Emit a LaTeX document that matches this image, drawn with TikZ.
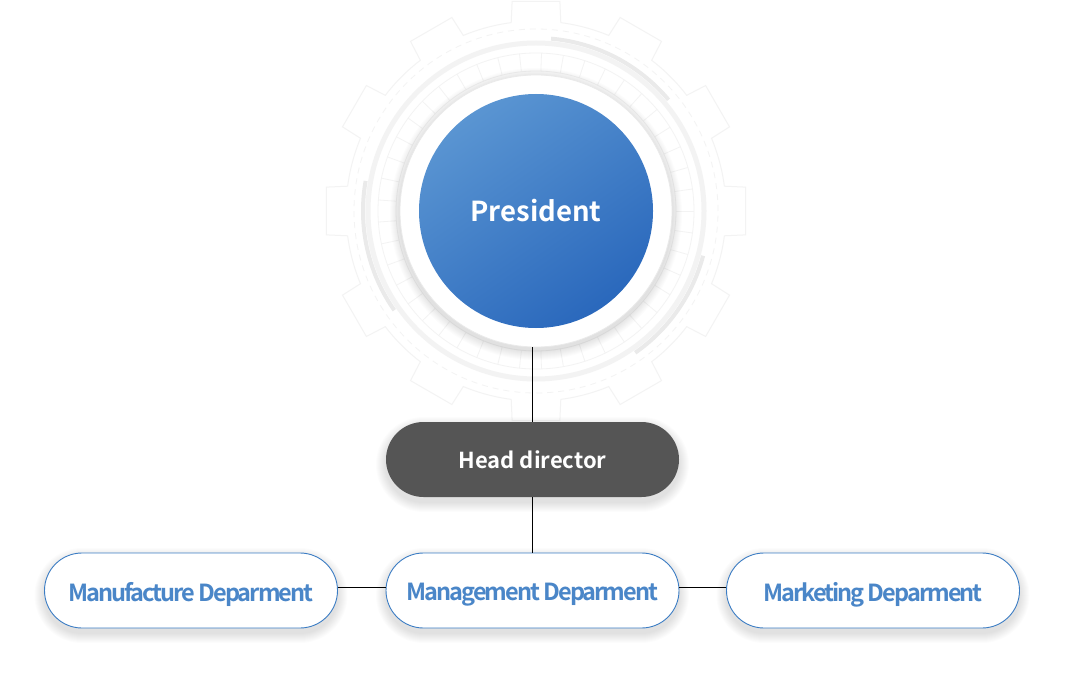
\documentclass[tikz,border=0pt]{standalone}
\usepackage{fontspec}
\setmainfont{Noto Sans CJK KR}[BoldFont={* Bold}]
\newfontfamily\deptfont{Noto Sans CJK KR}[UprightFont={* Bold}, LetterSpace=-8.5]
\definecolor{bluetxt}{HTML}{4A86C8}
\definecolor{blueedge}{HTML}{3C7DC4}
\definecolor{darkbox}{HTML}{555555}
\definecolor{blueA}{HTML}{5A95D2}
\definecolor{blueB}{HTML}{2A68BC}
\definecolor{gearc}{HTML}{F3F3F3}
\definecolor{ringc}{HTML}{EAEAEA}
\tikzset{
  pill/.style={rectangle, rounded corners=37.5pt, minimum width=293pt, minimum height=75pt, inner sep=0pt},
  dept/.style={pill, draw=blueedge, line width=0.9pt, fill=white},
  deptlabel/.style={inner sep=0pt, text=bluetxt, font=\deptfont\fontsize{23.5}{26}\selectfont},
  headbox/.style={pill, fill=darkbox, text=white, font=\bfseries\fontsize{22}{26}\selectfont},
  link/.style={draw=black, line width=0.8pt},
  gearline/.style={draw=gearc, line width=1pt},
  shadowlayer/.style={fill=black, opacity=0.011},
}
\newcommand{\pillshadow}[2]{%
  \foreach \i in {1,...,10} {
    \fill[shadowlayer, rounded corners={37.5pt+\i pt}] ({#1-146.5-\i},{#2-37.5-\i-5}) rectangle ({#1+146.5+\i},{#2+37.5+\i-5});
  }}
\begin{document}
\begin{tikzpicture}[x=1pt,y=1pt]
\fill[white] (0,0) rectangle (1065,673);
\useasboundingbox (0,0) rectangle (1065,673);
% background gear
\begin{scope}[shift={(536,462)}]
  \draw[gearline] (-7.5:190) \foreach \a in {0,30,...,330} { -- (\a-7.5:190) -- (\a-6.5:211) -- (\a+6.5:211) -- (\a+7.5:190) arc[start angle=\a+7.5, end angle=\a+22.5, radius=190] } -- cycle;
  \draw[gearc, line width=0.8pt, dash pattern=on 6pt off 5pt] (0,0) circle[radius=182];
  \draw[gearc, line width=5pt] (0,0) circle[radius=168];
  \draw[gearc, line width=0.8pt] (0,0) circle[radius=158];
  \draw[gearc, line width=0.8pt] (0,0) circle[radius=140];
  \foreach \a in {0,8,...,352} { \draw[gearc, line width=0.8pt] (\a:140) -- (\a:158); }
  \draw[ringc, line width=4pt] (85:173) arc[start angle=85, end angle=40, radius=173];
  \draw[ringc, line width=4pt] (-15:173) arc[start angle=-15, end angle=-55, radius=173];
  \draw[ringc, line width=4pt] (170:173) arc[start angle=170, end angle=215, radius=173];
\end{scope}
% president
\foreach \i in {1,...,10} {
  \fill[shadowlayer] (536,459) circle[radius={136+\i}];
}
\node[circle, minimum size=272pt, inner sep=0pt, fill=white, draw=ringc, line width=0.8pt] (ring) at (536,462) {};
\node[circle, minimum size=234pt, inner sep=0pt, top color=blueA, bottom color=blueB, shading angle=35,
  text=white, font=\bfseries\fontsize{27.5}{32}\selectfont] (pres) at (536,462) {President};
% shadows of boxes
\pillshadow{532.5}{213.5}
\pillshadow{191}{82.5}
\pillshadow{532.5}{82.5}
\pillshadow{873}{82.5}
% head director
\node[headbox] (hd) at (532.5,213.5) {Head director};
% departments
\node[dept] (mgmt) at (532.5,82.5) {};
\node[dept] (manu) at (191,82.5) {};
\node[dept] (mkt) at (873,82.5) {};
\node[deptlabel] (mgmtlbl) at ([yshift=-4pt]mgmt.center) {Management Deparment};
\node[deptlabel] (manulbl) at ([yshift=-4pt]manu.center) {Manufacture Deparment};
\node[deptlabel] (mktlbl) at ([yshift=-4pt]mkt.center) {Marketing Deparment};
% connectors
\draw[link] (hd.north) -- (hd.north |- ring.south);
\draw[link] (hd.south) -- (mgmt.north);
\draw[link] ([yshift=3pt]manu.east) -- ([yshift=3pt]mgmt.west);
\draw[link] ([yshift=3pt]mgmt.east) -- ([yshift=3pt]mkt.west);
\end{tikzpicture}
\end{document}
